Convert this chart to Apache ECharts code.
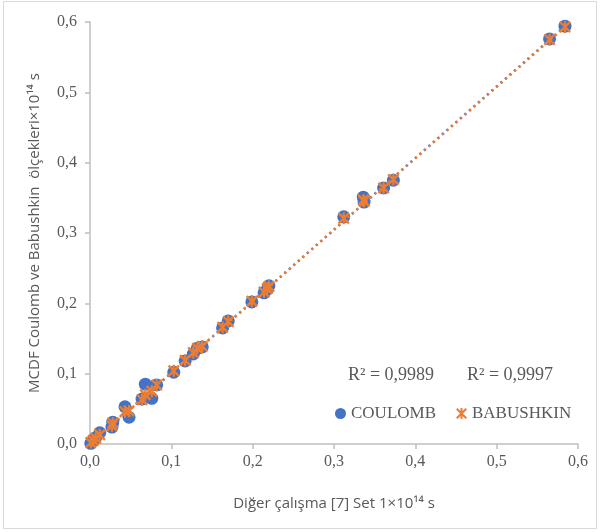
<!DOCTYPE html>
<html>
<head>
<meta charset="utf-8">
<script src="https://cdn.jsdelivr.net/npm/echarts@6/dist/echarts.min.js"></script>
<style>
  html, body { margin: 0; padding: 0; background: #fff; }
  #chart { width: 600px; height: 532px; }
</style>
</head>
<body>
<div id="chart"></div>
<script>
// values
var refX      = [0.001, 0.004, 0.007, 0.012, 0.027, 0.028, 0.043, 0.048, 0.064, 0.068, 0.076, 0.082, 0.103, 0.117, 0.127, 0.132, 0.138, 0.163, 0.170, 0.199, 0.214, 0.218, 0.220, 0.312, 0.336, 0.337, 0.361, 0.373, 0.565, 0.584];
var coulomb   = [0.001, 0.006, 0.009, 0.016, 0.024, 0.031, 0.053, 0.038, 0.064, 0.085, 0.065, 0.084, 0.102, 0.118, 0.128, 0.136, 0.138, 0.165, 0.175, 0.202, 0.215, 0.220, 0.225, 0.323, 0.351, 0.344, 0.364, 0.375, 0.576, 0.594];
var babushkin = [0.002, 0.005, 0.008, 0.013, 0.026, 0.030, 0.046, 0.047, 0.063, 0.070, 0.075, 0.084, 0.104, 0.119, 0.130, 0.136, 0.139, 0.166, 0.174, 0.203, 0.216, 0.221, 0.224, 0.321, 0.347, 0.345, 0.364, 0.376, 0.575, 0.593];
// trend line end points (as drawn)
var coulombTrend   = [[0.001, 0.000], [0.584, 0.594]];
var babushkinTrend = [[0.001, 0.001], [0.584, 0.593]];
var r2Labels = ['R\u00b2 = 0,9989', 'R\u00b2 = 0,9997'];
var seriesNames = ['COULOMB', 'BABUSHKIN'];

function pairs(xs, ys) {
	var out = [];
	for (var i = 0; i < xs.length; i++) out.push([xs[i], ys[i]]);
	return out;
}

var starPath = 'path://M1.4,0L10,8.6L8.6,10L0,1.4Z M8.6,0L10,1.4L1.4,10L0,8.6Z M4.1,0L5.9,0L5.9,10L4.1,10Z';
var grey = '#595959';
var serif = '"Liberation Serif", "DejaVu Serif", serif';
var sans = '"Open Sans", "Noto Sans", sans-serif';

var chart = echarts.init(document.getElementById('chart'));
chart.setOption({
	animation: false,
	backgroundColor: '#fff',
	grid: { left: 90, right: 22, top: 22, bottom: 88 },
	xAxis: {
		type: 'value', min: 0, max: 0.6, interval: 0.1,
		name: 'Diğer çalışma [7] Set 1×10¹⁴ s',
		nameLocation: 'middle', nameGap: 52,
		nameTextStyle: { color: grey, fontSize: 15, fontFamily: sans },
		axisLine: { lineStyle: { color: '#BFBFBF', width: 1.5 } },
		axisTick: { show: true, length: 5, lineStyle: { color: '#BFBFBF', width: 1.5 } },
		splitLine: { show: false },
		axisLabel: { color: grey, fontSize: 16, fontFamily: serif, margin: 10,
			formatter: function (v) { return v.toFixed(1).replace('.', ','); } }
	},
	yAxis: {
		type: 'value', min: 0, max: 0.6, interval: 0.1,
		name: 'MCDF Coulomb ve Babushkin  ölçekleri×10¹⁴ s',
		nameLocation: 'middle', nameGap: 48,
		nameTextStyle: { color: grey, fontSize: 15, fontFamily: sans },
		axisLine: { show: true, lineStyle: { color: '#BFBFBF', width: 1.5 } },
		axisTick: { show: true, length: 5, lineStyle: { color: '#BFBFBF', width: 1.5 } },
		splitLine: { show: false },
		axisLabel: { color: grey, fontSize: 16, fontFamily: serif, margin: 13,
			formatter: function (v) { return v.toFixed(1).replace('.', ','); } }
	},
	legend: {
		data: [
			{ name: seriesNames[0], icon: 'circle' },
			{ name: seriesNames[1], icon: starPath }
		],
		left: 330, top: 400,
		itemWidth: 11, itemHeight: 11, itemGap: 20,
		textStyle: { color: grey, fontSize: 17, fontFamily: serif }
	},
	graphic: [
		{ type: 'rect', shape: { x: 3.5, y: 1.5, width: 593, height: 527 },
			style: { fill: 'none', stroke: '#D9D9D9', lineWidth: 1 }, silent: true, z: -1 },
		{ type: 'text', left: 348, top: 366,
			style: { text: r2Labels[0], fill: grey, font: '18px ' + serif } },
		{ type: 'text', left: 467, top: 366,
			style: { text: r2Labels[1], fill: grey, font: '18px ' + serif } }
	],
	series: [
		{
			name: seriesNames[0], type: 'scatter', symbol: 'circle', symbolSize: 13,
			itemStyle: { color: '#4472C4', opacity: 1 },
			data: pairs(refX, coulomb), z: 2
		},
		{
			name: 'coulombTrend', type: 'line', data: coulombTrend, symbol: 'none',
			lineStyle: { color: '#4472C4', width: 2.5, type: [2, 4] }, z: 3
		},
		{
			name: seriesNames[1], type: 'scatter', symbol: starPath, symbolSize: 12,
			itemStyle: { color: '#ED7D31', opacity: 1 },
			data: pairs(refX, babushkin), z: 4
		},
		{
			name: 'babushkinTrend', type: 'line', data: babushkinTrend, symbol: 'none',
			lineStyle: { color: '#ED7D31', width: 2.5, type: [2, 4] }, z: 5
		}
	]
});
</script>
</body>
</html>
